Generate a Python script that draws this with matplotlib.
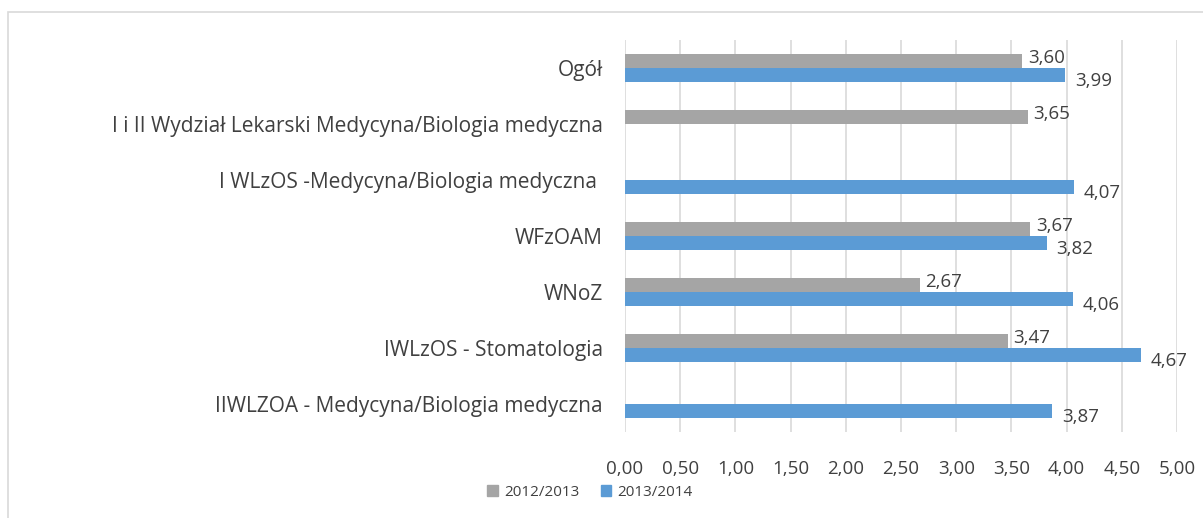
import matplotlib.pyplot as plt
import numpy as np
from matplotlib.patches import Rectangle, Patch

plt.rcParams['font.family'] = ['Open Sans', 'DejaVu Sans']

categories = [
    "Ogół",
    "I i II Wydział Lekarski Medycyna/Biologia medyczna",
    "I WLzOS -Medycyna/Biologia medyczna ",
    "WFzOAM",
    "WNoZ",
    "IWLzOS - Stomatologia",
    "IIWLZOA - Medycyna/Biologia medyczna",
]
s2012 = [3.60, 3.65, np.nan, 3.67, 2.67, 3.47, np.nan]
s2013 = [3.99, np.nan, 4.07, 3.82, 4.06, 4.67, 3.87]
series_names = ["2012/2013", "2013/2014"]
ticks = [0, 0.5, 1, 1.5, 2, 2.5, 3, 3.5, 4, 4.5, 5]

grey = "#A5A5A5"
blue = "#5B9BD5"
txt = "#404040"

fig = plt.figure(figsize=(12.03, 5.18), dpi=100)
ax = fig.add_axes([625 / 1203, 1 - 432 / 518, 552 / 1203, 392 / 518])

y = np.arange(len(categories))
h = 0.25
ax.barh(y - h / 2, s2012, height=h, color=grey, label=series_names[0])
ax.barh(y + h / 2, s2013, height=h, color=blue, label=series_names[1])

def fmt(v):
    return f"{v:.2f}".replace(".", ",")

for i, v in enumerate(s2012):
    if not np.isnan(v):
        ax.annotate(fmt(v), (v, y[i] - h / 2), xytext=(4, 2), textcoords="offset points",
                    va="center", ha="left", fontsize=13.5, color=txt)
for i, v in enumerate(s2013):
    if not np.isnan(v):
        ax.annotate(fmt(v), (v, y[i] + h / 2), xytext=(7, -4), textcoords="offset points",
                    va="center", ha="left", fontsize=13.5, color=txt)

ax.set_ylim(len(categories) - 0.5, -0.5)
ax.set_xlim(0, 5)
ax.set_xticks(ticks)
ax.set_xticklabels([fmt(t) for t in ticks], fontsize=13.5, color=txt)
ax.set_yticks(y)
ax.set_yticklabels(categories, fontsize=15, color=txt)
ax.tick_params(axis="x", length=0, pad=20)
ax.tick_params(axis="y", length=0, pad=16)
ax.grid(axis="x", color="#D9D9D9", linewidth=1.2)
ax.set_axisbelow(True)
for sp in ax.spines.values():
    sp.set_visible(False)

handles = [Patch(color=grey), Patch(color=blue)]
fig.legend(handles, series_names, loc="center", bbox_to_anchor=(590 / 1203, 1 - 492 / 518),
           ncol=2, frameon=False, fontsize=11, handlelength=0.7, handleheight=0.7,
           columnspacing=1.4, handletextpad=0.4, labelcolor=txt)

fig.patches.append(Rectangle((8 / 1203, -0.1), 1.1, 1 - 12 / 518 + 0.1,
                             transform=fig.transFigure, fill=False,
                             edgecolor="#D9D9D9", linewidth=1.2))

fig.savefig("out.png", dpi=100)
